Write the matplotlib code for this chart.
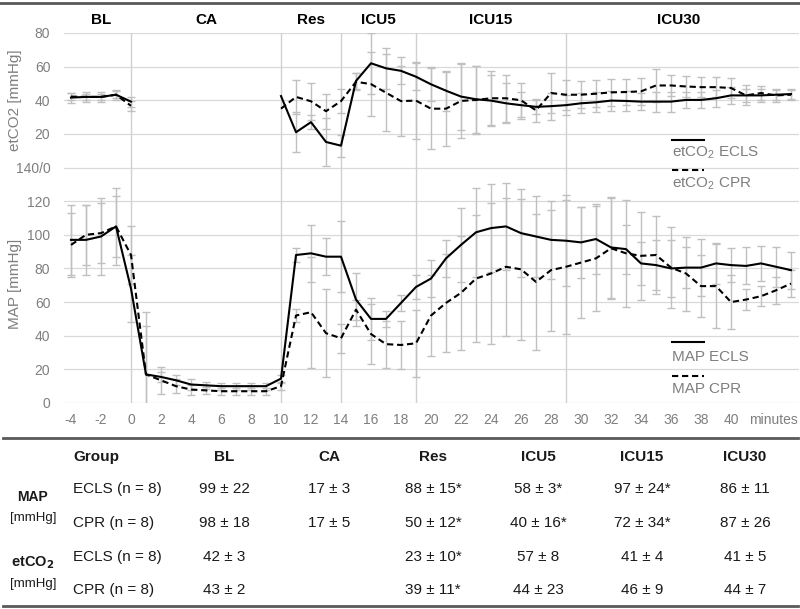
import matplotlib
matplotlib.use("Agg")
import matplotlib.pyplot as plt
from matplotlib.lines import Line2D
import numpy as np

plt.rcParams["font.family"] = ["Liberation Sans", "DejaVu Sans"]
plt.rcParams["mathtext.default"] = "regular"

nan = np.nan

# minutes relative to cardiac arrest, one point per minute
minutes = list(range(-4, 45))

map_ecls = [97, 97, 99, 105, 68, 17, 15.5, 13.5, 11, 10.5, 10, 10, 10, 10, 14.5,
            88, 89, 87, 87, 61.5, 50, 50, 59.5, 69, 74, 86, 94, 101.5, 104, 105,
            101, 99, 97, 96.5, 95.5, 97.5, 92.5, 91.5, 83, 82, 80, 80.5, 80.5, 83,
            82, 81.5, 83, 81, 79]
map_ecls_sd = [21, 21, 23, 23, 20, 37, 3, 3, 3, 2, 2, 2, 2, 2, 2,
               4, 17, 11, 21, 16, 12.5, 5, 5, 7, 11, 11, 22, 26.5, 26, 26,
               26, 24, 23, 27, 21, 21, 30, 14.5, 13, 15, 17, 12, 17, 12,
               10, 11, 10.5, 12, 11]
map_cpr = [94, 100, 101, 105, 88, 17, 13.5, 10, 8, 7.5, 7, 7, 7, 7, 10,
           52, 54, 41.5, 38.5, 55.5, 41, 35, 34.5, 35.5, 52, 59.5, 65.5, 74, 77, 81,
           79.5, 72, 79, 81, 83.5, 86, 92, 89, 87.5, 88, 80.5, 77, 69.5, 69.5,
           60, 61.5, 63.5, 67, 71]
map_cpr_sd = [19, 18, 18, 18, 17, 29, 8, 4, 3, 2, 2, 2, 2, 2, 2,
              4, 33, 26, 8.5, 6, 18, 14, 14, 20, 24, 29, 34, 38, 42, 41,
              42, 40.5, 36, 40, 33, 31, 30, 32, 26, 23, 24, 22, 18.5, 25,
              16, 6, 6, 8, 8]

co2_ecls = [41.6, 42, 42, 43.3, 39.2, nan, nan, nan, nan, nan, nan, nan, nan, nan, 42.5,
            21, 27, 15.2, 13, 51.5, 62, 59, 57.5, 54, 49.5, 45.7, 42.2, 40.6, 39.8, 38.2,
            37.1, 36.1, 36.5, 37.1, 38.2, 38.8, 39.8, 39.6, 39.2, 39.2, 39.2, 40.2, 40.2, 41.2,
            42.9, 42.9, 42.9, 43.3, 43.7]
co2_ecls_sd = [3, 3, 3, 3, 3, nan, nan, nan, nan, nan, nan, nan, nan, nan, nan,
               12, 4, 14, 6.5, 5, 18, 12, 8, 8, 10, 12, 20, 20, 15, 12,
               8, 4, 8, 6, 6, 6, 6, 6, 5, 6, 6, 5, 5, 5,
               5, 4, 4, 3, 3]
co2_cpr = [42.2, 42, 42, 43.3, 36.7, nan, nan, nan, nan, nan, nan, nan, nan, nan, 35,
           42, 39.4, 33.5, 39.5, 51, 49.6, 44.5, 39.5, 39.8, 35, 35, 39.6, 40.2, 41.2, 41.2,
           40, 34, 44.3, 43.3, 43.3, 43.9, 44.7, 44.9, 45.3, 48.8, 48.8, 48.2, 47.8, 47.8,
           47.3, 42.9, 44.3, 42.9, 43.3]
co2_cpr_sd = [2, 2, 2, 2, 3, nan, nan, nan, nan, nan, nan, nan, nan, nan, nan,
              10, 11, 10.5, 7, 5, 19, 23, 21, 23, 24, 22, 22, 20, 16, 14,
              10, 7, 12, 9, 8, 8, 8, 8, 8, 10, 6, 6, 6, 6,
              6, 6, 4, 4, 3]

# phases
phase_names = ["BL", "CA", "Res", "ICU5", "ICU15", "ICU30"]
phase_bounds = [-4, 0, 10, 14, 19, 29, 44]

# table
table_cols = ["Group", "BL", "CA", "Res", "ICU5", "ICU15", "ICU30"]
table_groups = ["ECLS (n = 8)", "CPR (n = 8)", "ECLS (n = 8)", "CPR (n = 8)"]
table_rows = [
    ["99 ± 22", "17 ± 3", "88 ± 15*", "58 ± 3*", "97 ± 24*", "86 ± 11"],
    ["98 ± 18", "17 ± 5", "50 ± 12*", "40 ± 16*", "72 ± 34*", "87 ± 26"],
    ["42 ± 3", "", "23 ± 10*", "57 ± 8", "41 ± 4", "41 ± 5"],
    ["43 ± 2", "", "39 ± 11*", "44 ± 23", "46 ± 9", "44 ± 7"],
]

CO2_OFFSET = 140
GRAY = "#7f7f7f"
W, H = 800, 609


def fx(px):
    return px / W


def fy(py):
    return 1 - py / H


fig = plt.figure(figsize=(W / 100, H / 100), dpi=100)
ax = fig.add_axes([fx(63.5), fy(403), fx(735), 370 / H])

ax.set_xlim(-4.5, 44.5)
ax.set_ylim(0, 220)
for s in ax.spines.values():
    s.set_visible(False)

yt = list(range(0, 221, 20))
ylab = [str(v) for v in range(0, 121, 20)] + ["140/0"] + [str(v) for v in range(20, 81, 20)]
ax.set_yticks(yt)
ax.set_yticklabels(ylab)
ax.set_xticks(list(range(-4, 41, 2)) + [42.8])
ax.set_xticklabels([str(v) for v in range(-4, 41, 2)] + ["minutes"])
ax.tick_params(axis="y", length=0, pad=9.5, labelsize=10, labelcolor=GRAY)
ax.tick_params(axis="x", length=0, pad=7, labelsize=10, labelcolor=GRAY)
ax.yaxis.grid(True, color="#d9d9d9", lw=0.9, zorder=0)
ax.set_axisbelow(True)

for b in phase_bounds[1:-1]:
    ax.axvline(b, color="#d0d0d0", lw=1, zorder=1)

for i, name in enumerate(phase_names):
    xc = (phase_bounds[i] + phase_bounds[i + 1]) / 2
    ax.text(xc, 228, name, ha="center", va="center", fontsize=11,
            fontweight="bold", clip_on=False)

co2_e = np.array(co2_ecls) + CO2_OFFSET
co2_c = np.array(co2_cpr) + CO2_OFFSET

eb = dict(fmt="none", ecolor="#c0c0c0", elinewidth=1, capsize=3, capthick=1, zorder=2)
ax.errorbar(minutes, map_ecls, yerr=map_ecls_sd, **eb)
ax.errorbar(minutes, map_cpr, yerr=map_cpr_sd, **eb)
ax.errorbar(minutes, co2_e, yerr=co2_ecls_sd, **eb)
ax.errorbar(minutes, co2_c, yerr=co2_cpr_sd, **eb)

dash = (0, (3, 1.8))
ax.plot(minutes, map_ecls, color="black", lw=1.5, zorder=3)
ax.plot(minutes, map_cpr, color="black", lw=1.5, ls=dash, zorder=3)
ax.plot(minutes, co2_e, color="black", lw=1.5, zorder=3)
ax.plot(minutes, co2_c, color="black", lw=1.5, ls=dash, zorder=3)

# y-axis titles
ax.text(-7.75, 180, "etCO2 [mmHg]", rotation=90, ha="center", va="center",
        fontsize=11, color=GRAY, clip_on=False)
ax.text(-7.75, 71, "MAP [mmHg]", rotation=90, ha="center", va="center",
        fontsize=11, color=GRAY, clip_on=False)

# legend entries: key line above the label
leg = [("etCO$_2$ ECLS", "-", 156.3, 148.8),
       ("etCO$_2$ CPR", dash, 138.3, 130.4),
       ("MAP ECLS", "-", 36.5, 27.6),
       ("MAP CPR", dash, 16.3, 8.3)]
for label, style, yl, ytxt in leg:
    ax.plot([36.07, 38.2], [yl, yl], color="black", lw=1.5, ls=style, zorder=4)
    ax.text(36.07, ytxt, label, ha="left", va="center", fontsize=11, color=GRAY)

# rules
fig.add_artist(Line2D([0, 1], [fy(2.7)] * 2, color="#595959", lw=2))
fig.add_artist(Line2D([fx(3), fx(798)], [fy(437.7)] * 2, color="#595959", lw=2))
fig.add_artist(Line2D([fx(3), fx(798)], [fy(605.7)] * 2, color="#595959", lw=2))

# table
TXT = "#1a1a1a"
col_x = [73, 224, 329, 433, 538, 642, 745]
row_y = [489, 523, 557, 590]
fig.text(fx(col_x[0]), fy(456.7), table_cols[0], ha="left", va="center",
         fontsize=11, fontweight="bold", color=TXT)
for cx, name in zip(col_x[1:], table_cols[1:]):
    fig.text(fx(cx), fy(456.7), name, ha="center", va="center",
             fontsize=11, fontweight="bold", color=TXT)
for ry, grp, vals in zip(row_y, table_groups, table_rows):
    fig.text(fx(col_x[0]), fy(ry), grp, ha="left", va="center", fontsize=11, color=TXT)
    for cx, v in zip(col_x[1:], vals):
        fig.text(fx(cx), fy(ry), v, ha="center", va="center", fontsize=11, color=TXT)

fig.text(fx(32), fy(497), "MAP", ha="center", va="center", fontsize=10,
         fontweight="bold", color=TXT)
fig.text(fx(33), fy(518), "[mmHg]", ha="center", va="center", fontsize=9.5, color=TXT)
fig.text(fx(33), fy(563), r"etCO$_\mathbf{2}$", ha="center", va="center", fontsize=10.5,
         fontweight="bold", color=TXT)
fig.text(fx(33), fy(584), "[mmHg]", ha="center", va="center", fontsize=9.5, color=TXT)

fig.savefig("out.png", dpi=100)
